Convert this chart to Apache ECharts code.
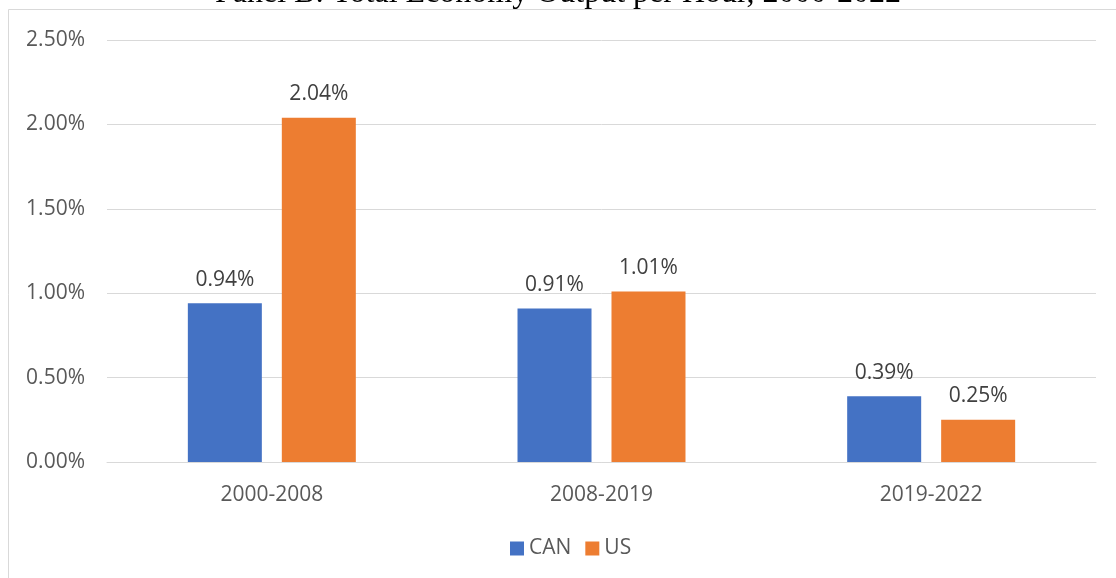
<!DOCTYPE html>
<html>
<head>
<meta charset="utf-8">
<script src="https://cdn.jsdelivr.net/npm/echarts@6/dist/echarts.min.js"></script>
<style>html,body{margin:0;padding:0;background:#fff;}#c{width:1116px;height:578px;}</style>
</head>
<body>
<div id="c"></div>
<script>
const categories = ['2000-2008', '2008-2019', '2019-2022'];
const canValues = [0.94, 0.91, 0.39];
const usValues = [2.04, 1.01, 0.25];
const seriesNames = ['CAN', 'US'];
const titleText = 'Panel B: Total Economy Output per Hour, 2000-2022';

const chart = echarts.init(document.getElementById('c'), null, {renderer: 'canvas'});
const font = '"Open Sans", "Liberation Sans", sans-serif';
const textColor = '#595959';
const labelCfg = {
  show: true, position: 'top', distance: 13,
  color: '#404040', fontFamily: font, fontSize: 21,
  formatter: p => p.value.toFixed(2) + '%'
};
chart.setOption({
  animation: false,
  backgroundColor: '#fff',
  title: {
    text: titleText, left: 'center', top: -27,
    textStyle: {fontFamily: '"Liberation Serif", "DejaVu Serif", serif', fontSize: 32, fontWeight: 'normal', color: '#000'}
  },
  graphic: [{
    type: 'rect', shape: {x: 8.5, y: 9.5, width: 1200, height: 700},
    style: {fill: 'none', stroke: '#d9d9d9', lineWidth: 1}, silent: true, z: -1
  }],
  grid: {left: 107, right: 20, top: 40, bottom: 116},
  legend: {
    data: seriesNames, bottom: 14, left: 505,
    icon: 'rect', itemWidth: 14, itemHeight: 14, itemGap: 14,
    textStyle: {fontFamily: font, fontSize: 21, color: textColor}
  },
  xAxis: {
    type: 'category', data: categories,
    axisLine: {lineStyle: {color: '#d9d9d9', width: 1}},
    axisTick: {show: false},
    axisLabel: {fontFamily: font, fontSize: 21, color: textColor, margin: 23}
  },
  yAxis: {
    type: 'value', min: 0, max: 2.5, interval: 0.5,
    axisLine: {show: false}, axisTick: {show: false},
    splitLine: {lineStyle: {color: '#d9d9d9', width: 1}},
    axisLabel: {fontFamily: font, fontSize: 21, color: textColor, margin: 22, formatter: v => v.toFixed(2) + '%'}
  },
  series: [
    {name: seriesNames[0], type: 'bar', data: canValues, barWidth: 74, barGap: '27%',
     itemStyle: {color: '#4472C4'}, label: labelCfg},
    {name: seriesNames[1], type: 'bar', data: usValues, barWidth: 74, barGap: '27%',
     itemStyle: {color: '#ED7D31'}, label: labelCfg}
  ]
});
</script>
</body>
</html>
